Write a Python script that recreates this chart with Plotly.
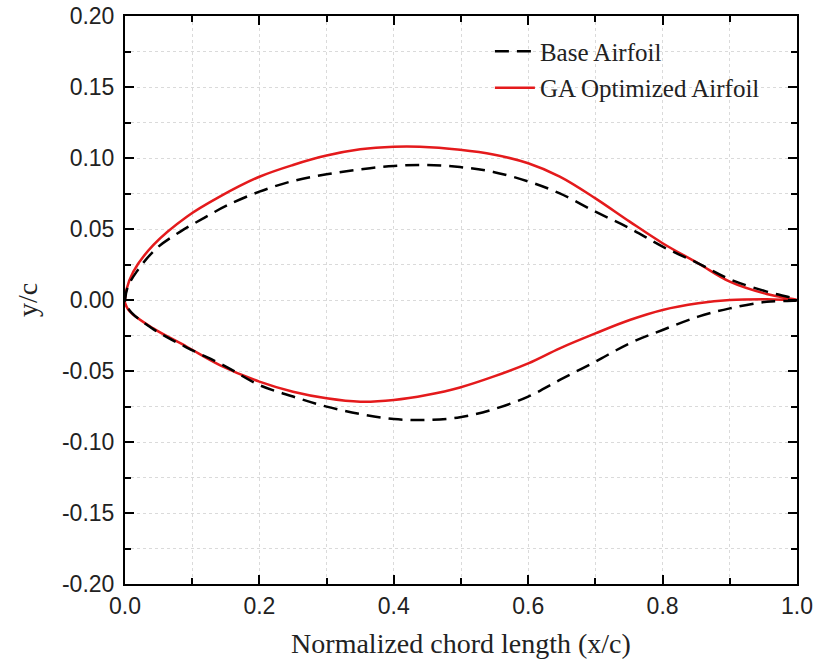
import plotly.graph_objects as go

# Base airfoil
base_upper_x = [0.0, 0.004, 0.0174, 0.047, 0.0818, 0.1166, 0.151, 0.2, 0.25, 0.3, 0.35, 0.4, 0.449, 0.4985, 0.548, 0.6, 0.647, 0.7, 0.751, 0.8, 0.853, 0.9, 0.955, 1.0]
base_upper_y = [0.0, 0.009, 0.020, 0.0364, 0.048, 0.0575, 0.0664, 0.0763, 0.0838, 0.0885, 0.092, 0.0944, 0.0951, 0.0936, 0.0902, 0.0835, 0.0751, 0.0622, 0.0505, 0.0376, 0.0258, 0.0146, 0.0059, 0.0]
base_lower_x = [0.0, 0.01, 0.042, 0.092, 0.146, 0.2, 0.25, 0.3, 0.35, 0.4, 0.449, 0.4985, 0.548, 0.6, 0.647, 0.7, 0.751, 0.8, 0.853, 0.9, 0.955, 1.0]
base_lower_y = [-0.002, -0.009, -0.0205, -0.0335, -0.0458, -0.0599, -0.068, -0.0751, -0.0803, -0.0838, -0.0845, -0.0826, -0.077, -0.068, -0.0563, -0.0434, -0.0305, -0.0211, -0.0117, -0.0059, -0.0012, 0.0]

# GA optimized airfoil
ga_upper_x = [0.0, 0.002, 0.0124, 0.042, 0.092, 0.141, 0.2, 0.25, 0.3, 0.35, 0.4, 0.439, 0.4985, 0.548, 0.6, 0.647, 0.7, 0.751, 0.8, 0.853, 0.9, 0.955, 1.0]
ga_upper_y = [0.0, 0.007, 0.020, 0.0387, 0.0587, 0.0728, 0.0868, 0.0951, 0.1017, 0.1061, 0.108, 0.108, 0.1058, 0.1025, 0.0963, 0.0869, 0.0716, 0.0552, 0.040, 0.0258, 0.0129, 0.0042, 0.0]
ga_lower_x = [0.0, 0.0074, 0.042, 0.092, 0.141, 0.2, 0.25, 0.3, 0.35, 0.4, 0.449, 0.4985, 0.548, 0.6, 0.647, 0.7, 0.751, 0.8, 0.853, 0.9, 0.955, 1.0]
ga_lower_y = [-0.002, -0.0082, -0.020, -0.0329, -0.0458, -0.0575, -0.0646, -0.0692, -0.0716, -0.0704, -0.0669, -0.0616, -0.054, -0.0446, -0.034, -0.0235, -0.0141, -0.0070, -0.0023, 0.0, 0.0005, 0.0]

x_tickvals = [0.0, 0.2, 0.4, 0.6, 0.8, 1.0]
x_ticktext = ["0.0", "0.2", "0.4", "0.6", "0.8", "1.0"]
y_tickvals = [-0.20, -0.15, -0.10, -0.05, 0.0, 0.05, 0.10, 0.15, 0.20]
y_ticktext = ["-0.20", "-0.15", "-0.10", "-0.05", "0.00", "0.05", "0.10", "0.15", "0.20"]

def loop(ux, uy, lx, ly):
    return ux[::-1] + lx, uy[::-1] + ly

bx, by = loop(base_upper_x, base_upper_y, base_lower_x, base_lower_y)
gx, gy = loop(ga_upper_x, ga_upper_y, ga_lower_x, ga_lower_y)

fig = go.Figure()
fig.add_trace(go.Scatter(x=gx, y=gy, mode="lines", name="GA Optimized Airfoil",
                         line=dict(color="#e41a1c", width=2.5, shape="spline", smoothing=1.0),
                         legendgroup="b", legendrank=2))
fig.add_trace(go.Scatter(x=bx, y=by, mode="lines", name="Base Airfoil",
                         line=dict(color="black", width=2.5, dash="14px,8px", shape="spline", smoothing=1.0),
                         legendgroup="a", legendrank=1))

grid_color = "#dadada"
axis_common = dict(showline=True, linecolor="black", linewidth=2, mirror="ticks",
                   ticks="inside", ticklen=9, tickwidth=2, tickcolor="black",
                   showgrid=True, gridcolor=grid_color, griddash="dot", gridwidth=1,
                   zeroline=False, automargin=False,
                   tickfont=dict(family="Liberation Sans, Arial", size=23, color="#222"))

fig.update_xaxes(range=[0, 1], tickmode="array", tickvals=x_tickvals, ticktext=x_ticktext,
                 minor=dict(dtick=0.1, tick0=0, ticks="inside", ticklen=6, tickwidth=2, tickcolor="black",
                            showgrid=True, gridcolor=grid_color, griddash="dot", gridwidth=1),
                 title=dict(text="Normalized chord length (x/c)", standoff=16,
                            font=dict(family="Liberation Serif, Times New Roman", size=28, color="#222")),
                 **axis_common)
fig.update_yaxes(range=[-0.2, 0.2], tickmode="array", tickvals=y_tickvals, ticktext=y_ticktext,
                 ticklabelstandoff=4,
                 minor=dict(dtick=0.025, tick0=0, ticks="inside", ticklen=6, tickwidth=2, tickcolor="black",
                            showgrid=True, gridcolor=grid_color, griddash="dot", gridwidth=1),
                 title=dict(text="y/c", standoff=16,
                            font=dict(family="Liberation Serif, Times New Roman", size=28, color="#222")),
                 **axis_common)

fig.update_layout(width=816, height=670, margin=dict(l=125, r=19, t=16, b=86),
                  plot_bgcolor="white", paper_bgcolor="white",
                  legend=dict(x=0.543, y=0.978, xanchor="left", yanchor="top", itemwidth=40,
                              bgcolor="rgba(0,0,0,0)", traceorder="grouped", tracegroupgap=1,
                              font=dict(family="Liberation Serif, Times New Roman", size=25, color="#222")))

fig.write_html("out.html")
